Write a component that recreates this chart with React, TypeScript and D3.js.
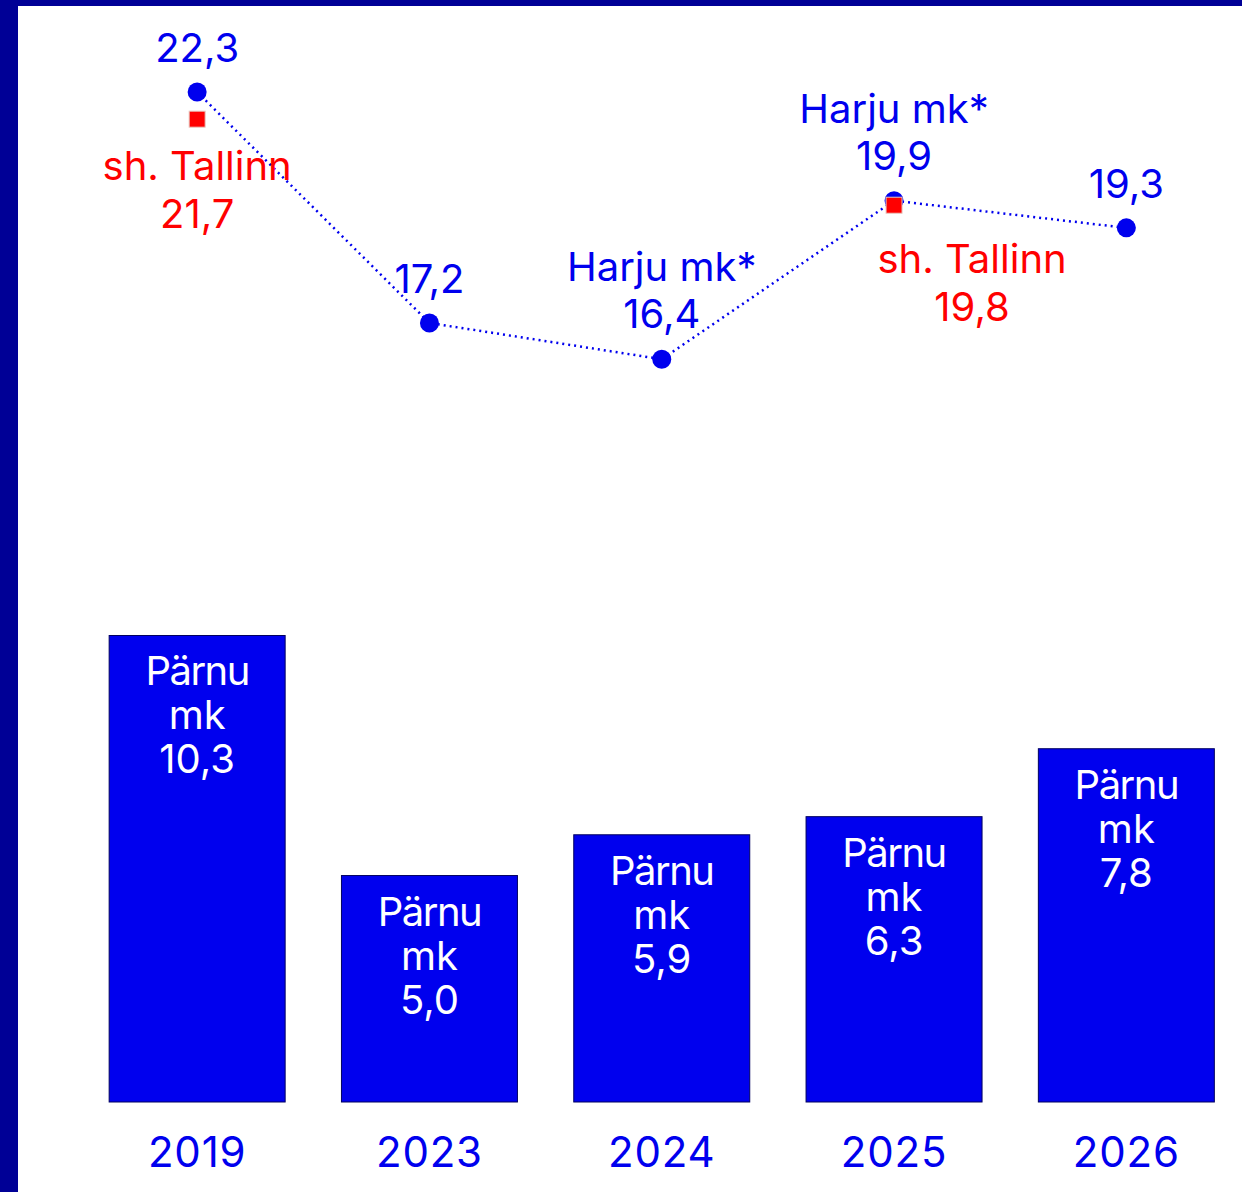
import React from "react";
import * as d3 from "d3";

const years = ["2019", "2023", "2024", "2025", "2026"];
const parnuValues = [10.3, 5.0, 5.9, 6.3, 7.8];
const topValues = [22.3, 17.2, 16.4, 19.9, 19.3];
const topNames = ["", "", "Harju mk*", "Harju mk*", ""];
const tallinnYears = ["2019", "2025"];
const tallinnValues = [21.7, 19.8];
const tallinnLabel = "sh. Tallinn";
const barLabel = ["Pärnu", "mk"];

const W = 1242;
const H = 1192;
const BLUE = "#0000ee";
const NAVY = "#000096";
const RED = "#ff0000";
const FONT = "Inter, 'Noto Sans', sans-serif";

const fmt = (v: number) => v.toFixed(1).replace(".", ",");

export default function App() {
  const x = d3.scaleBand<string>().domain(years).range([81, 1242.5]).paddingInner(0.2424).paddingOuter(0.1212);
  const y = d3.scaleLinear().domain([0, 22.3]).range([1102, 92]);
  const cx = (yr: string) => (x(yr) as number) + x.bandwidth() / 2;
  const line = d3.line<number>().x((_, i) => cx(years[i])).y((d) => y(d));
  const fs = 40;

  const tallinnDx = [0, 78];
  const tallinnDy = [61, 68];

  return (
    <svg width={W} height={H} style={{ position: "absolute", left: 0, top: 0, background: "#fff" }} fontFamily={FONT}>
      <rect x={0} y={0} width={W} height={H} fill="#fff" />
      <rect x={0} y={0} width={18} height={H} fill={NAVY} />
      <rect x={0} y={0} width={W} height={6} fill={NAVY} />

      {years.map((yr, i) => (
        <g key={yr}>
          <rect
            x={x(yr)}
            y={y(parnuValues[i])}
            width={x.bandwidth()}
            height={y(0) - y(parnuValues[i])}
            fill={BLUE}
            stroke="#000060"
            strokeWidth={1}
          />
          <text x={cx(yr)} textAnchor="middle" fill="#fff" fontSize={fs}>
            <tspan x={cx(yr)} y={y(parnuValues[i]) + 50} letterSpacing={-1.5}>{barLabel[0]}</tspan>
            <tspan x={cx(yr)} y={y(parnuValues[i]) + 94}>{barLabel[1]}</tspan>
            <tspan x={cx(yr)} y={y(parnuValues[i]) + 138}>{fmt(parnuValues[i])}</tspan>
          </text>
          <text x={cx(yr)} y={1167} textAnchor="middle" fill={BLUE} fontSize={42} letterSpacing={0.8}>
            {yr}
          </text>
        </g>
      ))}

      <path d={line(topValues) || ""} fill="none" stroke={BLUE} strokeWidth={2.5} strokeDasharray="2 4" />
      {years.map((yr, i) => (
        <circle key={yr} cx={cx(yr)} cy={y(topValues[i])} r={9.5} fill={BLUE} />
      ))}
      {tallinnYears.map((yr, i) => (
        <rect key={yr} x={cx(yr) - 8} y={y(tallinnValues[i]) - 8} width={16} height={16} fill={RED} stroke="#e8c8c0" strokeWidth={1} />
      ))}

      {years.map((yr, i) => (
        <text key={yr} textAnchor="middle" fill={BLUE} fontSize={fs}>
          {topNames[i] ? (
            <>
              <tspan x={cx(yr)} y={y(topValues[i]) - 78}>{topNames[i]}</tspan>
              <tspan x={cx(yr)} y={y(topValues[i]) - 31}>{fmt(topValues[i])}</tspan>
            </>
          ) : (
            <tspan x={cx(yr)} y={y(topValues[i]) - 30}>{fmt(topValues[i])}</tspan>
          )}
        </text>
      ))}
      {tallinnYears.map((yr, i) => (
        <text key={yr} textAnchor="middle" fill={RED} fontSize={fs}>
          <tspan x={cx(yr) + tallinnDx[i]} y={y(tallinnValues[i]) + tallinnDy[i]}>{tallinnLabel}</tspan>
          <tspan x={cx(yr) + tallinnDx[i]} y={y(tallinnValues[i]) + tallinnDy[i] + 48}>{fmt(tallinnValues[i])}</tspan>
        </text>
      ))}
    </svg>
  );
}
